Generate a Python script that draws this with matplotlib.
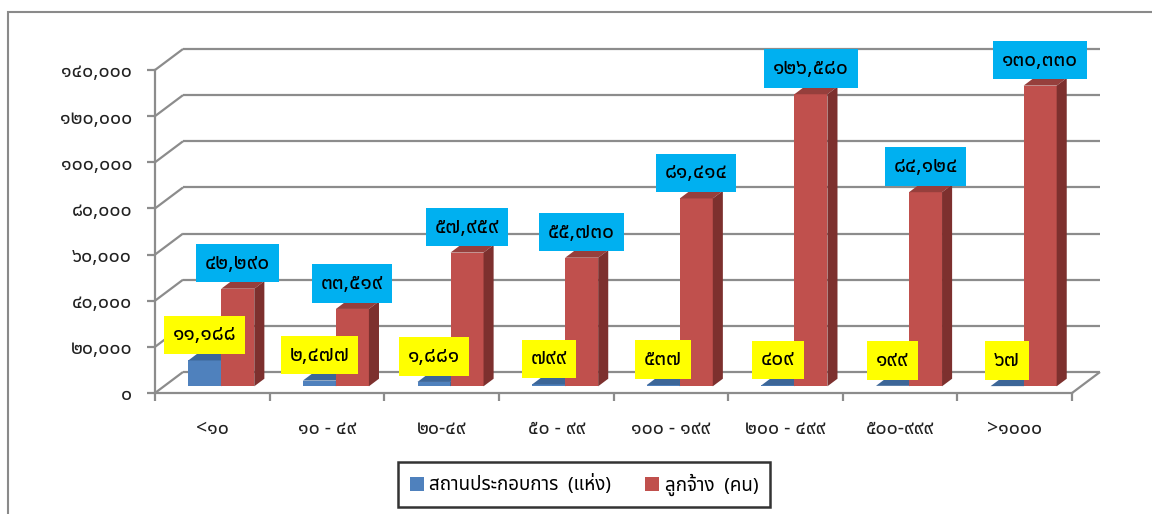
import matplotlib
matplotlib.use("Agg")
import matplotlib.pyplot as plt
from matplotlib import font_manager
from matplotlib.ft2font import FT2Font
from matplotlib.patches import Polygon, Rectangle, Patch
from matplotlib.transforms import IdentityTransform
from matplotlib.ticker import FixedLocator, NullFormatter

# ---------------- data ----------------
categories = ["<๑๐", "๑๐ - ๔๙", "๒๐-๔๙", "๕๐ - ๙๙",
              "๑๐๐ - ๑๙๙", "๒๐๐ - ๔๙๙", "๕๐๐-๙๙๙", ">๑๐๐๐"]
establishments = [11188, 2477, 1881, 799, 537, 409, 199, 67]
employees = [42290, 33519, 57959, 55730, 81414, 126580, 84124, 130330]
y_ticks = [0, 20000, 40000, 60000, 80000, 100000, 120000, 140000]
series_names = ["สถานประกอบการ  (แห่ง)", "ลูกจ้าง  (คน)"]

THAI = str.maketrans("0123456789", "๐๑๒๓๔๕๖๗๘๙")


def thai_num(v):
    return f"{v:,}".translate(THAI)


# ---------------- font with Thai glyphs ----------------
def find_thai_font():
    preferred = ["Tahoma", "Noto Sans Thai", "Noto Sans Thai UI", "Loma",
                 "Garuda", "Norasi", "Sarabun", "Kinnari", "Waree"]
    found = []
    for f in font_manager.fontManager.ttflist:
        try:
            cmap = FT2Font(f.fname).get_charmap()
        except Exception:
            continue
        if 0x0E01 in cmap and 0x0E51 in cmap:
            found.append(f.name)
    for p in preferred:
        if p in found:
            return p
    return found[0] if found else None


thai_font = find_thai_font()
families = ([thai_font] if thai_font else []) + ["DejaVu Sans"]
plt.rcParams["font.family"] = families

# ---------------- figure / axes ----------------
W, H, DPI = 1152, 514, 100
fig = plt.figure(figsize=(W / DPI, H / DPI), dpi=DPI)
fig.patch.set_facecolor("white")

x_left, x_right, y_bottom, y_top = 155, 1072, 393, 70
ax = fig.add_axes([x_left / W, (H - y_bottom) / H,
                   (x_right - x_left) / W, (y_bottom - y_top) / H])
n = len(categories)
ax.set_xlim(-0.5, n - 0.5)
ax.set_ylim(0, 140000)
ax.patch.set_visible(False)

GRID = "#8C8C8C"
DEPTH = (28.0, 21.0)  # pixel offset of the back wall


def P(x, y, z=0.0):
    dx, dy = ax.transData.transform((x, y))
    return (dx + DEPTH[0] * z, dy + DEPTH[1] * z)


def poly(pts, color, zorder, ec="none", lw=0):
    ax.add_patch(Polygon(pts, closed=True, facecolor=color, edgecolor=ec,
                         linewidth=lw, transform=IdentityTransform(),
                         clip_on=False, zorder=zorder))


def line(p0, p1, zorder=1, lw=1.6, color=GRID):
    ax.add_line(plt.Line2D([p0[0], p1[0]], [p0[1], p1[1]], color=color,
                           linewidth=lw, transform=IdentityTransform(),
                           clip_on=False, zorder=zorder,
                           solid_capstyle="butt"))


# gridlines: left wall diagonals + back wall horizontals
for t in y_ticks:
    a = P(-0.5, t, 0)
    b = P(-0.5, t, 1)
    c = P(n - 0.5, t, 1)
    line(a, b)
    line(b, c)
# floor right edge
line(P(n - 0.5, 0, 0), P(n - 0.5, 0, 1))

# spines / ticks
for s in ["top", "right"]:
    ax.spines[s].set_visible(False)
for s in ["left", "bottom"]:
    ax.spines[s].set_color(GRID)
    ax.spines[s].set_linewidth(1.6)
    ax.spines[s].set_zorder(1)

ax.set_yticks(y_ticks)
ax.set_yticklabels([thai_num(t) for t in y_ticks])
ax.tick_params(axis="y", direction="out", length=6, width=1.6, color=GRID,
               pad=10.5, labelsize=14, labelcolor="#222222")

ax.set_xticks(range(n))
ax.set_xticklabels(categories)
ax.xaxis.set_minor_locator(FixedLocator([i - 0.5 for i in range(n + 1)]))
ax.xaxis.set_minor_formatter(NullFormatter())
ax.tick_params(axis="x", which="major", length=0, pad=19, labelsize=14,
               labelcolor="#222222")
ax.tick_params(axis="x", which="minor", direction="out", length=5.5,
               width=1.6, color=GRID)

# ---------------- 3D bars ----------------
BW = 0.288
ZF, ZB = 0.32, 0.68
series = [
    (establishments, -BW, ("#4F81BD", "#3C6698", "#2F4F77")),
    (employees, 0.0, ("#C0504D", "#963F3C", "#7D302E")),
]
zo = 3
for i in range(n):
    for vals, off, (front, top, side) in series:
        v = vals[i]
        x0, x1 = i + off, i + off + BW
        # front face
        poly([P(x0, 0, ZF), P(x1, 0, ZF), P(x1, v, ZF), P(x0, v, ZF)], front, zo)
        # top face
        poly([P(x0, v, ZF), P(x1, v, ZF), P(x1, v, ZB), P(x0, v, ZB)], top, zo)
        # side face
        poly([P(x1, 0, ZF), P(x1, v, ZF), P(x1, v, ZB), P(x1, 0, ZB)], side, zo)
        zo += 1

# ---------------- data labels ----------------
for i in range(n):
    for vals, off, box in [(establishments, -BW, "#FFFF00"),
                           (employees, 0.0, "#00B0F0")]:
        v = vals[i]
        px, py = P(i + off + BW / 2, v, ZF)
        ax.text(px, py + 28, thai_num(v), transform=IdentityTransform(),
                ha="center", va="center_baseline", fontsize=15, color="black",
                zorder=100, clip_on=False,
                bbox=dict(boxstyle="square,pad=0.42", facecolor=box,
                          edgecolor="none"))

# ---------------- legend ----------------
handles = [Patch(facecolor="#4F81BD", edgecolor="none"),
           Patch(facecolor="#C0504D", edgecolor="none")]
leg = fig.legend(handles, series_names, loc="center",
                 bbox_to_anchor=(584 / W, 1 - 484.5 / H), ncol=2,
                 fontsize=13.5, frameon=True, fancybox=False,
                 handlelength=0.75, handleheight=0.75, handletextpad=0.3,
                 columnspacing=1.8, borderpad=0.6, borderaxespad=0)
leg.get_frame().set_edgecolor("black")
leg.get_frame().set_linewidth(1.8)

# ---------------- outer chart border ----------------
fig.add_artist(Rectangle((8 / W, -0.1), 1.2, 1.1 - 12 / H,
                         transform=fig.transFigure, facecolor="none",
                         edgecolor="#8A8A8A", linewidth=1.5, zorder=0))

fig.savefig("out.png", dpi=DPI, facecolor="white")
